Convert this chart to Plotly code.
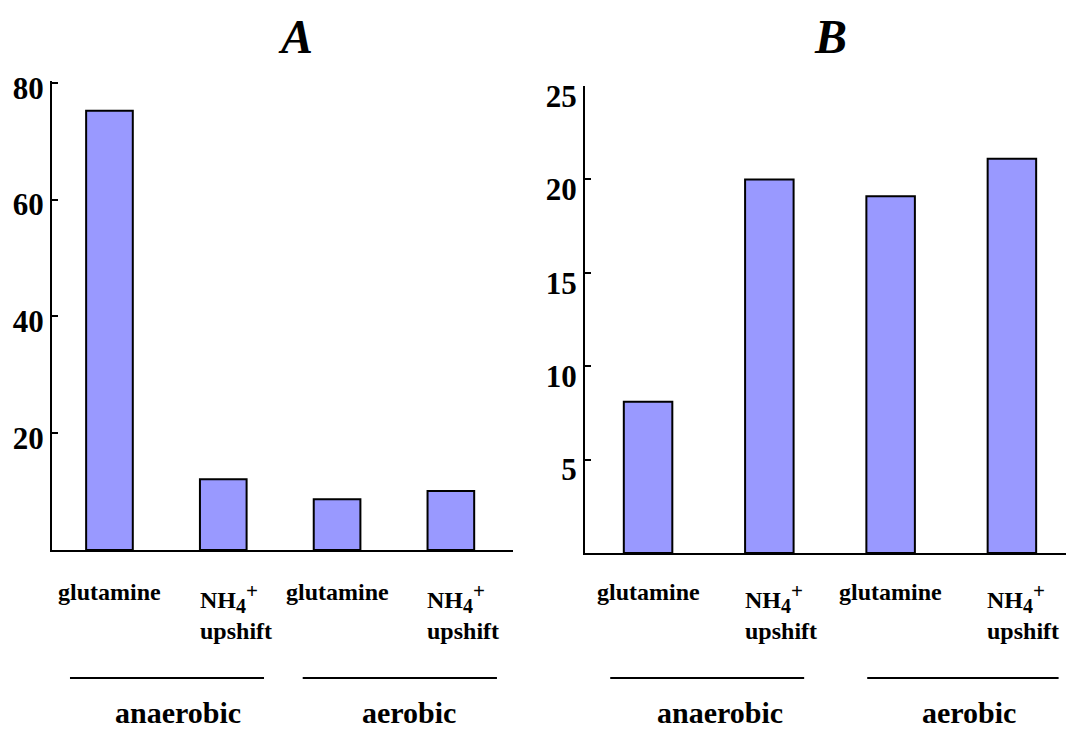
import plotly.graph_objects as go

# Categories (same order in both panels)
categories = ["anaerobic glutamine", "anaerobic NH4+ upshift",
              "aerobic glutamine", "aerobic NH4+ upshift"]
values_a = [75.2, 12.1, 8.7, 10.1]
values_b = [8.1, 20.0, 19.1, 21.1]
ticks_a = [20, 40, 60, 80]
ticks_b = [5, 10, 15, 20, 25]
panel_titles = ["A", "B"]
groups = ["anaerobic", "aerobic"]
nh4_label = ("NH<sub><span style='font-size:20px'>4</span></sub>"
             "<sup><span style='font-size:21px'>+</span></sup><br>upshift")
short_labels = ["glutamine", nh4_label, "glutamine", nh4_label]

W, H = 1066, 731
FONT = "Liberation Serif"
BAR_COLOR = "#9999FF"
idx = list(range(len(categories)))


def px_x(p):
    return p / W


def px_y(p):
    return 1 - p / H


fig = go.Figure()

fig.add_trace(go.Bar(x=idx, y=values_a, width=0.41, xaxis="x", yaxis="y",
                     marker=dict(color=BAR_COLOR, line=dict(color="black", width=2)),
                     hovertext=categories, showlegend=False))
fig.add_trace(go.Bar(x=idx, y=values_b, width=0.40, xaxis="x2", yaxis="y2",
                     marker=dict(color=BAR_COLOR, line=dict(color="black", width=2)),
                     hovertext=categories, showlegend=False))

axis_common = dict(showgrid=False, zeroline=False, showline=True,
                   linecolor="black", linewidth=2, automargin=False)
tickfont = dict(family=FONT, size=31, color="black", weight="bold")

fig.update_layout(
    width=W, height=H,
    margin=dict(l=0, r=0, t=0, b=0, autoexpand=False),
    paper_bgcolor="white", plot_bgcolor="white",
    bargap=0.5,
    xaxis=dict(domain=[px_x(52), px_x(513)], range=[-0.505, 3.546],
               showticklabels=False, ticks="", anchor="y", **axis_common),
    yaxis=dict(domain=[px_y(550), px_y(81)], range=[0, 80.3],
               tickvals=ticks_a, ticks="inside", ticklen=6, tickwidth=2,
               tickcolor="black", tickfont=tickfont, anchor="x",
               ticklabelshift=5, **axis_common),
    xaxis2=dict(domain=[px_x(585), 1.0], range=[-0.52, 3.446],
                showticklabels=False, ticks="", anchor="y2", **axis_common),
    yaxis2=dict(domain=[px_y(553), px_y(86)], range=[0, 25],
                tickvals=ticks_b, ticks="inside", ticklen=6, tickwidth=2,
                tickcolor="black", tickfont=tickfont, anchor="x2",
                ticklabelshift=10, **axis_common),
)

annotations = []
shapes = []

# Panel titles
for title, cx in zip(panel_titles, [295, 830]):
    annotations.append(dict(text=f"<b><i>{title}</i></b>", x=px_x(cx), y=px_y(37),
                            xref="paper", yref="paper", showarrow=False,
                            xanchor="center", yanchor="middle",
                            font=dict(family=FONT, size=48, color="black")))

lab_font = dict(family=FONT, size=24, color="black")
for xa, widths in [("x", 0.41), ("x2", 0.40)]:
    for i, lab in enumerate(short_labels):
        if i % 2 == 0:
            annotations.append(dict(text=f"<b>{lab}</b>", x=i, y=px_y(592), xref=xa,
                                    yref="paper", showarrow=False, xanchor="center",
                                    yanchor="middle", font=lab_font))
        else:
            annotations.append(dict(text=f"<b>{lab}</b>", x=i - widths / 2 - 0.02,
                                    y=px_y(577), xref=xa, yref="paper",
                                    showarrow=False, xanchor="left", yanchor="top",
                                    align="left", font=lab_font))

# Group brackets and labels (positions in axis units)
group_spans = {
    "x": [(-0.347, 1.358, 0.6), (1.698, 3.405, 2.63)],
    "x2": [(-0.312, 1.287, 0.59), (1.807, 3.385, 2.65)],
}
grp_font = dict(family=FONT, size=30, color="black")
for xa, spans in group_spans.items():
    for name, (x0, x1, xc) in zip(groups, spans):
        shapes.append(dict(type="line", xref=xa, yref="paper", x0=x0, x1=x1,
                           y0=px_y(678), y1=px_y(678),
                           line=dict(color="black", width=2)))
        annotations.append(dict(text=f"<b>{name}</b>", x=xc, y=px_y(712), xref=xa,
                                yref="paper", showarrow=False, xanchor="center",
                                yanchor="middle", font=grp_font))

fig.update_layout(annotations=annotations, shapes=shapes)

fig.write_html("out.html")
